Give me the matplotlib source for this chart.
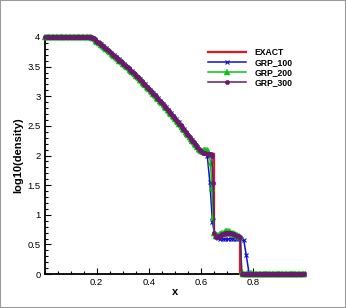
import numpy as np
import matplotlib
matplotlib.use('Agg')
import matplotlib.pyplot as plt
from matplotlib.patches import Rectangle
from matplotlib.ticker import MultipleLocator, FixedLocator

plt.rcParams['font.family'] = ['Liberation Sans', 'DejaVu Sans']

# Solucao exata (pontos de quebra)
exact_x = [0.0, 0.182, 0.2, 0.25, 0.3, 0.35, 0.4, 0.45, 0.5, 0.55, 0.6, 0.605,
           0.651, 0.651, 0.751, 0.751, 1.0]
exact_y = [4.0, 4.0, 3.93, 3.75, 3.56, 3.355, 3.13, 2.89, 2.64, 2.36, 2.07, 2.03,
           2.03, 0.65, 0.65, 0.0, 0.0]

# GRP_100: 100 celulas
grp100_y = ([4.0] * 18 +
            [3.99, 3.95, 3.91, 3.88, 3.84, 3.81, 3.77, 3.73, 3.69, 3.66,
             3.62, 3.58, 3.54, 3.50, 3.46, 3.42, 3.37, 3.33, 3.29, 3.24,
             3.20, 3.15, 3.11, 3.06, 3.02, 2.97, 2.92, 2.87, 2.82, 2.77,
             2.72, 2.67, 2.61, 2.56, 2.50, 2.44, 2.38, 2.32, 2.26, 2.20,
             2.14, 2.09, 2.06, 2.05, 2.00, 1.55, 0.88, 0.64, 0.61, 0.60,
             0.59, 0.59, 0.59, 0.60, 0.60, 0.60, 0.60, 0.60, 0.58, 0.32,
             0.03] +
            [0.0] * 21)

# trecho de rarefacao comum (malha de 200 celulas, x = 0.1825 ... 0.6025)
rare_200 = [3.99, 3.98, 3.96, 3.94, 3.92, 3.90, 3.89, 3.87, 3.85, 3.83,
            3.81, 3.80, 3.78, 3.76, 3.74, 3.72, 3.70, 3.68, 3.66, 3.64,
            3.62, 3.60, 3.59, 3.57, 3.55, 3.53, 3.51, 3.49, 3.47, 3.45,
            3.43, 3.41, 3.39, 3.37, 3.34, 3.32, 3.30, 3.28, 3.25, 3.23,
            3.21, 3.19, 3.16, 3.14, 3.12, 3.09, 3.07, 3.04, 3.02, 3.00,
            2.97, 2.95, 2.92, 2.90, 2.88, 2.85, 2.82, 2.80, 2.77, 2.75,
            2.72, 2.70, 2.67, 2.65, 2.62, 2.59, 2.57, 2.54, 2.51, 2.48,
            2.45, 2.43, 2.40, 2.37, 2.34, 2.31, 2.28, 2.25, 2.23, 2.20,
            2.17, 2.14, 2.11, 2.09, 2.07]

grp200_y = ([4.0] * 36 + rare_200 +
            [2.07, 2.09, 2.10, 2.10, 2.08, 2.04, 1.87, 1.45, 0.97, 0.70, 0.64,
             0.65, 0.66, 0.67, 0.68, 0.69, 0.70, 0.71, 0.72, 0.72, 0.72,
             0.71, 0.70, 0.69, 0.68, 0.67, 0.66, 0.65, 0.64, 0.63, 0.03] +
            [0.0] * 48)

grp300_y = ([4.0] * 36 + rare_200 +
            [2.05, 2.05, 2.04, 2.03, 2.03, 2.02, 2.02, 2.00, 1.53, 0.70, 0.63,
             0.63, 0.64, 0.65, 0.66, 0.67, 0.68, 0.69, 0.70, 0.70, 0.70,
             0.70, 0.69, 0.68, 0.67, 0.66, 0.65, 0.64, 0.63, 0.62] +
            [0.0] * 49)

x_ticks = [0.2, 0.4, 0.6, 0.8]
y_ticks = [0, 0.5, 1, 1.5, 2, 2.5, 3, 3.5, 4]
y_ticklabels = ['0', '0.5', '1', '1.5', '2', '2.5', '3', '3.5', '4']

COLORS = {'EXACT': '#e8141c', 'GRP_100': '#1010d0', 'GRP_200': '#10c010', 'GRP_300': '#6a1a6e'}


def cell_centers(y):
    n = len(y)
    return (np.arange(n) + 0.5) / n


fig = plt.figure(figsize=(3.46, 3.08), dpi=100)
ax = fig.add_axes([0.129, 0.110, 0.752, 0.770])

ax.plot(exact_x, exact_y, color=COLORS['EXACT'], lw=1.6, label='EXACT', clip_on=False, zorder=3)
ax.plot(cell_centers(grp100_y), grp100_y, color=COLORS['GRP_100'], lw=1.1, marker='x',
        ms=2.8, mew=0.8, label='GRP_100', clip_on=False, zorder=4)
ax.plot(cell_centers(grp200_y), grp200_y, color=COLORS['GRP_200'], lw=1.1, marker='^',
        ms=3.8, mew=0.3, label='GRP_200', clip_on=False, zorder=5)
ax.plot(cell_centers(grp300_y), grp300_y, color=COLORS['GRP_300'], lw=1.1, marker='o',
        ms=3.2, mew=0.3, label='GRP_300', clip_on=False, zorder=6)

ax.set_xlim(0, 1)
ax.set_ylim(0, 4)
ax.xaxis.set_major_locator(FixedLocator(x_ticks))
ax.xaxis.set_minor_locator(MultipleLocator(0.05))
ax.set_yticks(y_ticks)
ax.set_yticklabels(y_ticklabels)
ax.yaxis.set_minor_locator(MultipleLocator(0.1))

for s in ['top', 'right']:
    ax.spines[s].set_visible(False)
for s in ['left', 'bottom']:
    ax.spines[s].set_linewidth(1.3)

ax.tick_params(which='both', direction='in', labelsize=6.8, width=0.8, pad=3)
ax.tick_params(which='major', length=4)
ax.tick_params(which='minor', length=2.2)

ax.set_xlabel('x', fontsize=8, fontweight='bold', labelpad=0)
ax.set_ylabel('log10(density)', fontsize=8, fontweight='bold', labelpad=3)

leg = ax.legend(loc='upper left', bbox_to_anchor=(0.6, 0.985), frameon=False,
                numpoints=1, handlelength=4.4, handletextpad=0.9, labelspacing=0.1,
                prop={'size': 6.2, 'weight': 'bold'})

fig.patches.append(Rectangle((0, 0), 1, 1, transform=fig.transFigure, fill=False,
                             edgecolor='#9a9a9a', lw=1.5))

fig.savefig('out.png', dpi=100)
